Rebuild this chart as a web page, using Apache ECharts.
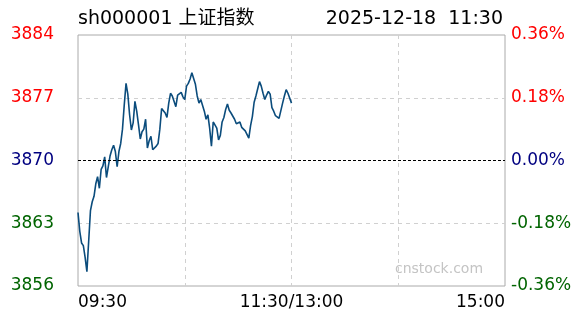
<!DOCTYPE html>
<html>
<head>
<meta charset="utf-8">
<script src="https://cdn.jsdelivr.net/npm/echarts@6/dist/echarts.min.js"></script>
<style>
html,body{margin:0;padding:0;background:#fff;}
#c{width:588px;height:324px;}
</style>
</head>
<body>
<div id="c"></div>
<script>
var titleText = 'sh000001 上证指数';
var dateText = '2025-12-18  11:30';
var watermark = 'cnstock.com';
var prevClose = 3870;
var yTicks = [3856, 3863, 3870, 3877, 3884];
var pctTicks = [-0.36, -0.18, 0, 0.18, 0.36];
var timeLabels = {0: '09:30', 120: '11:30/13:00', 240: '15:00'};
var totalMinutes = 240;
var prices = [
3864.2, 3862.1, 3860.8, 3860.5, 3859.2, 3857.6, 3861.0, 3864.4, 3865.4, 3866.0,
3867.4, 3868.2, 3866.9, 3869.0, 3869.4, 3870.4, 3868.1, 3869.3, 3870.5, 3871.2,
3871.7, 3871.0, 3869.3, 3871.0, 3871.9, 3873.5, 3876.2, 3878.6, 3877.4, 3875.1,
3873.4, 3874.2, 3876.6, 3875.5, 3874.0, 3872.4, 3873.2, 3873.5, 3874.6, 3871.4,
3872.2, 3872.7, 3871.2, 3871.4, 3871.6, 3871.9, 3873.5, 3875.8, 3875.7, 3875.3,
3874.8, 3876.4, 3877.5, 3877.2, 3877.0, 3876.0, 3877.3, 3877.2, 3877.6, 3877.1,
3876.8, 3878.3, 3878.6, 3879.1, 3879.8, 3879.9, 3878.5, 3877.2, 3876.4, 3876.8,
3876.6, 3875.5, 3874.6, 3875.1, 3873.6, 3871.6, 3874.3, 3874.5, 3873.6, 3872.3,
3872.8, 3874.3, 3874.8, 3875.7, 3876.3, 3875.6, 3875.3, 3875.1, 3874.6, 3874.1,
3874.2, 3874.3, 3873.7, 3873.5, 3873.3, 3873.2, 3872.5, 3873.9, 3874.9, 3876.5,
3877.2, 3878.0, 3878.8, 3878.3, 3877.5, 3876.8, 3877.3, 3877.7, 3877.4, 3875.9,
3875.5, 3875.0, 3874.9, 3874.7, 3874.8, 3876.4, 3877.2, 3877.9, 3877.5, 3877.3,
3876.4
];

var RED = '#ff0000', NAVY = '#000080', GREEN = '#006400';
function colorFor(v, mid) { return v > mid ? RED : (v < mid ? GREEN : NAVY); }
var FONT = '"DejaVu Sans", "Noto Sans CJK SC", sans-serif';

var chart = echarts.init(document.getElementById('c'), null, {renderer: 'canvas'});
chart.setOption({
  animation: false,
  backgroundColor: '#fff',
  title: [
    {text: titleText, left: 73, top: 5, textStyle: {fontSize: 19, fontWeight: 'normal', color: '#000', fontFamily: FONT}},
    {text: dateText, right: 80, top: 5, textStyle: {fontSize: 19, fontWeight: 'normal', color: '#000', fontFamily: FONT}}
  ],
  graphic: [
    {type: 'text', left: 395, top: 262, style: {text: watermark, fontSize: 14, fill: '#c4c4c4', fontFamily: FONT}, z: 1}
  ],
  grid: {left: 78, right: 83, top: 35, bottom: 38, show: true, borderColor: '#aaaaaa', borderWidth: 1, backgroundColor: 'transparent'},
  xAxis: {
    type: 'value', min: 0, max: totalMinutes, interval: 60,
    axisLine: {show: false}, axisTick: {show: false},
    axisLabel: {
      margin: 8, fontSize: 17, color: '#000', fontFamily: FONT,
      formatter: function (v) { return timeLabels[v] || ''; },
      alignMinLabel: 'left', alignMaxLabel: 'right'
    },
    splitLine: {show: true, lineStyle: {color: ['rgba(0,0,0,0)', '#d0d0d0', '#d0d0d0', '#d0d0d0', 'rgba(0,0,0,0)'], type: [4, 4], width: 1}}
  },
  yAxis: [
    {
      type: 'value', min: yTicks[0], max: yTicks[yTicks.length - 1], interval: 7,
      axisLine: {show: false}, axisTick: {show: false},
      axisLabel: {margin: 24, fontSize: 17, fontFamily: FONT,
        formatter: function (v) { return String(Math.round(v)); },
        color: function (v) { return colorFor(+v, prevClose); }},
      splitLine: {show: true, lineStyle: {color: ['rgba(0,0,0,0)', '#d0d0d0', 'rgba(0,0,0,0)', '#d0d0d0', 'rgba(0,0,0,0)'], type: [4, 4], width: 1}}
    },
    {
      type: 'value', min: pctTicks[0], max: pctTicks[pctTicks.length - 1], interval: 0.18,
      position: 'right',
      axisLine: {show: false}, axisTick: {show: false},
      axisLabel: {margin: 6, fontSize: 17, fontFamily: FONT,
        formatter: function (v) { return (Math.abs(v) < 1e-9 ? 0 : v).toFixed(2) + '%'; },
        color: function (v) { v = +v; return Math.abs(v) < 1e-9 ? NAVY : colorFor(v, 0); }},
      splitLine: {show: false}
    }
  ],
  series: [{
    type: 'line',
    yAxisIndex: 0,
    data: prices.map(function (v, i) { return [i, v]; }),
    showSymbol: false,
    smooth: false,
    lineStyle: {color: '#0b4c7c', width: 1.6},
    markLine: {
      silent: true, symbol: 'none', label: {show: false},
      lineStyle: {color: '#000', type: [3, 2], width: 1},
      data: [{yAxis: prevClose}]
    },
    z: 3
  }]
});
</script>
</body>
</html>
